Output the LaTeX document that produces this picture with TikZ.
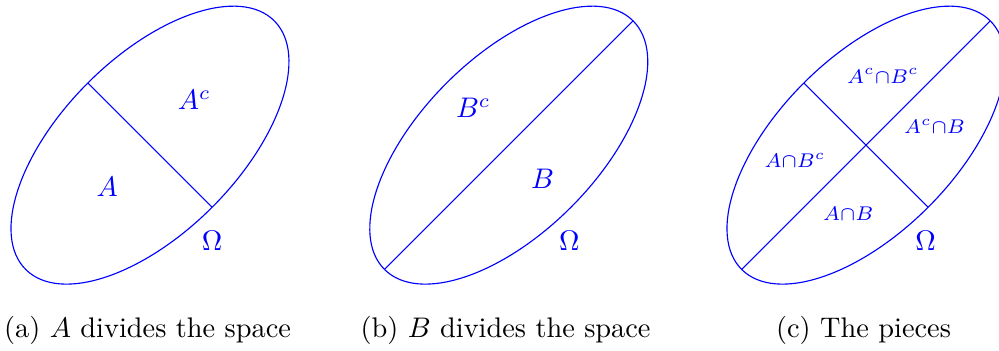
\documentclass[tikz,border=0pt]{standalone}
\usepackage{amsmath,amssymb}
\usetikzlibrary{positioning}

\begin{document}
\begin{tikzpicture}[e/.style={draw=blue}, l/.style={text=blue, inner sep=1pt}]
\useasboundingbox (0,0) rectangle (12.39,4.35);
\coordinate (oa) at (1.86,2.55); \coordinate (ob) at (6.31,2.55); \coordinate (oc) at (10.74,2.55);
\foreach \o in {oa,ob,oc} \draw[e, rotate around={45:(\o)}] (\o) ellipse (2.18 and 1.09);
% A cuts across the short axis, B along the long one
\foreach \o in {oa,oc} {\path (\o) ++(135:1.09) coordinate (\o t) (\o) ++(-45:1.09) coordinate (\o b); \draw[e] (\o t) -- (\o b);}
\foreach \o in {ob,oc} {\path (\o) ++(225:2.18) coordinate (\o l) (\o) ++(45:2.18) coordinate (\o r); \draw[e] (\o l) -- (\o r);}
\node[l] (ac) at (2.41,3.11) {$A^c$}; \node[l] (a) at (1.33,2.03) {$A$}; \node[l] (om1) at (2.63,1.36) {$\Omega$};
\node[l] (bc) at (5.87,3.01) {$B^c$}; \node[l] (b) at (6.73,2.13) {$B$}; \node[l] (om2) at (7.06,1.36) {$\Omega$};
\node[l] (acbc) at (10.95,3.41) {$\scriptstyle A^c\cap B^c$}; \node[l] (acb) at (11.59,2.78) {$\scriptstyle A^c\cap B$};
\node[l] (abc) at (9.86,2.36) {$\scriptstyle A\cap B^c$}; \node[l] (ab) at (10.52,1.70) {$\scriptstyle A\cap B$}; \node[l] (om3) at (11.48,1.36) {$\Omega$};
\node (capa) at (1.83,0.25) {(a) $A$ divides the space};
\node (capb) at (6.27,0.25) {(b) $B$ divides the space};
\node (capc) at (10.71,0.25) {(c) The pieces};
\end{tikzpicture}
\end{document}
